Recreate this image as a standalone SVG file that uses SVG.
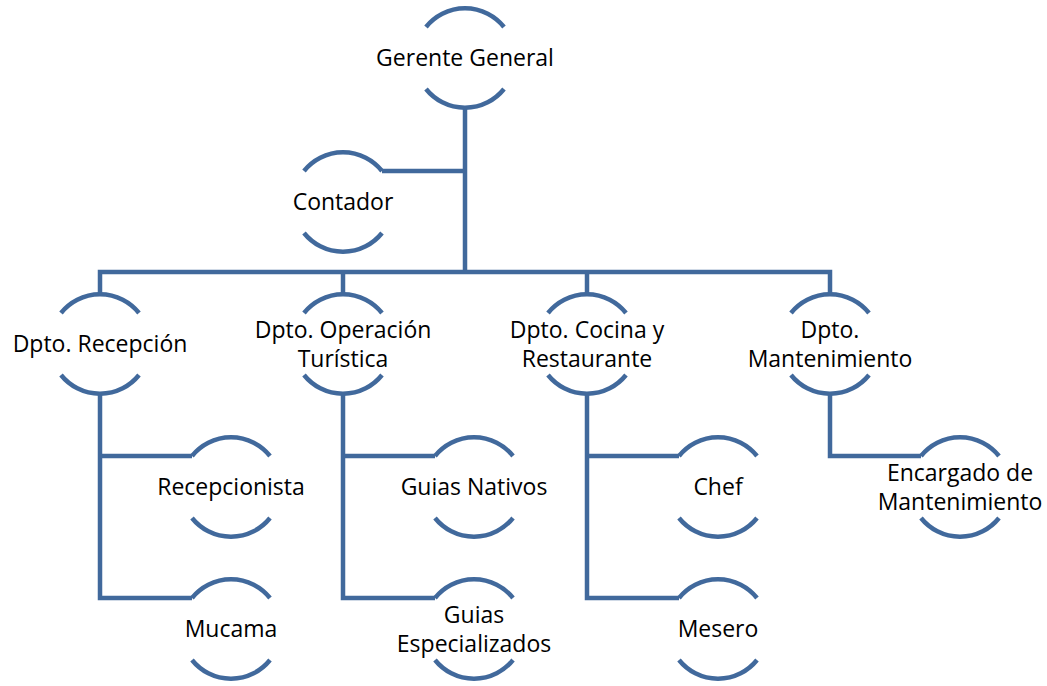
<svg xmlns="http://www.w3.org/2000/svg" xmlns:xlink="http://www.w3.org/1999/xlink" width="1047" height="686" viewBox="0 0 1047 686">
<style>
.arc{fill:none;stroke:#41699c;stroke-width:4.5}
.ln{fill:none;stroke:#41699c;stroke-width:4.5;stroke-linejoin:miter}
text{font-family:"Open Sans","Liberation Sans",sans-serif;font-size:23px;fill:#000;text-anchor:middle}
</style>
<defs>
<g id="node">
<path class="arc" d="M-39,-31 A50,50 0 0 1 39,-31"/>
<path class="arc" d="M-39,31 A50,50 0 0 0 39,31"/>
</g>
</defs>
<rect width="1047" height="686" fill="#fff"/>
<g id="connectors">
<path class="ln" d="M465,108 V272"/>
<path class="ln" d="M382,171 H465"/>
<path class="ln" d="M100,293 V272 H830 V293"/>
<path class="ln" d="M343,272 V293"/>
<path class="ln" d="M587,272 V293"/>
<path class="ln" d="M100,395 V598 H192"/>
<path class="ln" d="M100,456 H192"/>
<path class="ln" d="M343,395 V598 H435"/>
<path class="ln" d="M343,456 H435"/>
<path class="ln" d="M587,395 V598 H679"/>
<path class="ln" d="M587,456 H679"/>
<path class="ln" d="M830,395 V456 H921"/>
</g>
<g id="gerente" transform="translate(465,58)"><use xlink:href="#node"/><text y="8">Gerente General</text></g>
<g id="contador" transform="translate(343,202)"><use xlink:href="#node"/><text y="8">Contador</text></g>
<g id="recepcion" transform="translate(100,344)"><use xlink:href="#node"/><text y="8">Dpto. Recepción</text></g>
<g id="operacion" transform="translate(343,344)"><use xlink:href="#node"/><text y="-6">Dpto. Operación</text><text y="23">Turística</text></g>
<g id="cocina" transform="translate(587,344)"><use xlink:href="#node"/><text y="-6">Dpto. Cocina y</text><text y="23">Restaurante</text></g>
<g id="mantenimiento" transform="translate(830,344)"><use xlink:href="#node"/><text y="-6">Dpto.</text><text y="23">Mantenimiento</text></g>
<g id="recepcionista" transform="translate(231,487)"><use xlink:href="#node"/><text y="8">Recepcionista</text></g>
<g id="mucama" transform="translate(231,629)"><use xlink:href="#node"/><text y="8">Mucama</text></g>
<g id="guias-nativos" transform="translate(474,487)"><use xlink:href="#node"/><text y="8">Guias Nativos</text></g>
<g id="guias-especializados" transform="translate(474,629)"><use xlink:href="#node"/><text y="-6">Guias</text><text y="23">Especializados</text></g>
<g id="chef" transform="translate(718,487)"><use xlink:href="#node"/><text y="8">Chef</text></g>
<g id="mesero" transform="translate(718,629)"><use xlink:href="#node"/><text y="8">Mesero</text></g>
<g id="encargado" transform="translate(960,487)"><use xlink:href="#node"/><text y="-6">Encargado de</text><text y="23">Mantenimiento</text></g>
</svg>
